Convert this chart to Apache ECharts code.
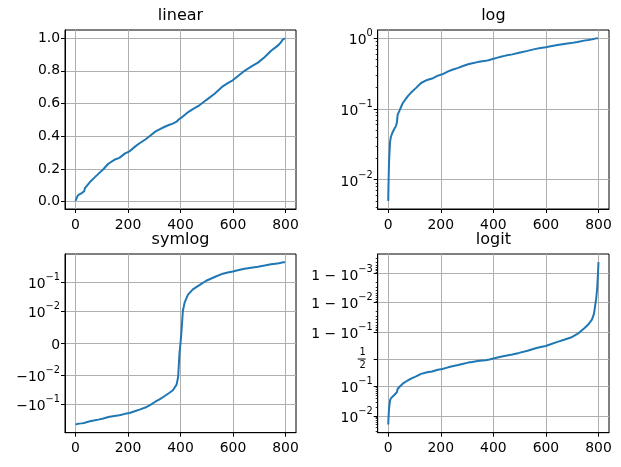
<!DOCTYPE html>
<html>
<head>
<meta charset="utf-8">
<script src="https://cdn.jsdelivr.net/npm/echarts@6/dist/echarts.min.js"></script>
<style>
html, body { margin: 0; padding: 0; background: #fff; }
#main { width: 621px; height: 467px; }
</style>
</head>
<body>
<div id="main"></div>
<script>
// sorted samples (index -> value)
const xIdx = [0, 1, 2, 3, 5, 7, 10, 16, 22, 29, 33, 36, 42, 55, 74, 87, 106, 125, 148, 167,
  189, 206, 228, 244, 266, 282, 304, 320, 340, 358, 371, 385, 391, 396, 400, 404, 409, 416, 428, 447,
  472, 498, 530, 561, 580, 599, 618, 644, 669, 695, 720, 745, 762, 775, 783, 788, 791, 795, 798, 800]
const yVal = [0.005, 0.008, 0.012, 0.017, 0.025, 0.034, 0.040, 0.046, 0.051, 0.057, 0.064, 0.083, 0.093, 0.12, 0.15, 0.17, 0.198, 0.232, 0.256, 0.268,
  0.295, 0.308, 0.338, 0.357, 0.38, 0.40, 0.428, 0.442, 0.458, 0.47, 0.477, 0.489, 0.4985, 0.5067, 0.51, 0.514, 0.52, 0.53, 0.546, 0.566,
  0.589, 0.621, 0.66, 0.705, 0.725, 0.742, 0.767, 0.80, 0.825, 0.85, 0.883, 0.922, 0.943, 0.96, 0.975, 0.988, 0.992, 0.9967, 0.999, 0.9996]
const yMean = 0.51

const titles = ['linear', 'log', 'symlog', 'logit']
const xTicks = [0, 200, 400, 600, 800]
const linTicks = [0, 0.2, 0.4, 0.6, 0.8, 1.0]
const logTicks = [0.01, 0.1, 1]
const logLabels = [['10', '−2'], ['10', '−1'], ['10', '0']]
const symTicks = [-0.1, -0.01, 0, 0.01, 0.1]
const symLabels = [['−10', '−1'], ['−10', '−2'], ['0', ''], ['10', '−2'], ['10', '−1']]
const logitTicks = [0.01, 0.1, 0.5, 0.9, 0.99, 0.999]
const logitLabels = [['10', '−2'], ['10', '−1'], ['1/2', ''], ['1 − 10', '−1'], ['1 − 10', '−2'], ['1 − 10', '−3']]

const FONT = 'DejaVu Sans'
const BLUE = '#1f77b4'

// scale transforms
const symlog = a => {
  const lt = 0.01, adj = 1 / (1 - 1 / 10)
  const m = Math.abs(a)
  if (m <= lt) return a / lt * adj
  return Math.sign(a) * (adj + Math.log10(m / lt))
}
const logit = p => Math.log10(p / (1 - p))
const padded = (lo, hi) => [lo - 0.05 * (hi - lo), hi + 0.05 * (hi - lo)]

// minor ticks
const logMinor = []
const logitMinor = []
;[0.001, 0.01, 0.1].forEach(d => {
  for (let k = 2; k <= 9; k++) logMinor.push(k * d)
})
;[0.001, 0.01].forEach(d => {
  for (let k = 2; k <= 9; k++) logitMinor.push(k * d)
})
;[0.01, 0.001, 0.0001].forEach(d => {
  for (let k = 2; k <= 9; k++) logitMinor.push(1 - k * d)
})

const linData = xIdx.map((x, i) => [x, yVal[i]])
const symData = xIdx.map((x, i) => [x, symlog(yVal[i] - yMean)])
const logitData = xIdx.map((x, i) => [x, logit(yVal[i])])

const yLo = Math.min(...yVal), yHi = Math.max(...yVal)
const linExt = padded(yLo, yHi)
const logExtL = padded(Math.log10(yLo), Math.log10(yHi))
const logExt = [Math.pow(10, logExtL[0]), Math.pow(10, logExtL[1])]
const symExt = padded(symlog(yLo - yMean), symlog(yHi - yMean))
const logitExt = padded(logit(yLo), logit(yHi))

const panels = [
  { left: 65, top: 30, width: 231, height: 179 },
  { left: 377.7, top: 30, width: 231.3, height: 179 },
  { left: 65, top: 254, width: 231, height: 178.7 },
  { left: 377.7, top: 254, width: 231.3, height: 178.7 }
]

const labelStyle = { color: '#000', fontSize: 13.9, fontFamily: FONT }
const rich = {
  b: { color: '#000', fontSize: 13.9, fontFamily: FONT, lineHeight: 19, verticalAlign: 'bottom' },
  s: { color: '#000', fontSize: 9.8, fontFamily: FONT, lineHeight: 11, verticalAlign: 'top' },
  n: { color: '#000', fontSize: 9.8, fontFamily: FONT, lineHeight: 10 },
  bar: { backgroundColor: '#000', width: 8, height: 1, lineHeight: 3, fontSize: 1 },
  sp: { width: 7, fontSize: 1, lineHeight: 1 }
}
const gridLine = { show: true, lineStyle: { color: '#b0b0b0', width: 1 } }
const spine = { show: true, onZero: false, lineStyle: { color: '#000', width: 1 } }
const tick = vals => ({ show: true, customValues: vals, length: 4, lineStyle: { color: '#000', width: 1 } })
const pick = (ticks, labels) => v => {
  const i = ticks.findIndex(t => Math.abs(t - v) < 1e-6 * Math.max(1, Math.abs(t)))
  if (i < 0) return ''
  const [base, exp] = labels[i]
  if (base === '1/2') return '{n|1}{sp| }\n{bar| }{sp| }\n{n|2}{sp| }'
  return exp ? `{b|${base}}{s|${exp}}` : `{b|${base}}`
}

const xAxis = panels.map((p, i) => ({
  type: 'value', gridIndex: i, min: -40, max: 840, position: 'bottom',
  axisLine: spine,
  axisTick: tick(xTicks),
  axisLabel: Object.assign({ customValues: xTicks, margin: 9 }, labelStyle),
  splitLine: gridLine
}))

const yCommon = { position: 'left', axisLine: spine, splitLine: gridLine }
const symT = symTicks.map(symlog)
const logitT = logitTicks.map(logit)
const minorAxis = { position: 'left', axisLabel: { show: false }, splitLine: { show: false },
  axisLine: { show: false, onZero: false } }
const yAxis = [
  Object.assign({ type: 'value', gridIndex: 0, min: linExt[0], max: linExt[1],
    axisTick: tick(linTicks),
    axisLabel: Object.assign({ customValues: linTicks, margin: 5, formatter: v => v.toFixed(1) }, labelStyle) }, yCommon),
  Object.assign({ type: 'log', logBase: 10, gridIndex: 1, min: logExt[0], max: logExt[1],
    axisTick: tick(logTicks),
    axisLabel: Object.assign({ customValues: logTicks, margin: 5, formatter: pick(logTicks, logLabels), rich: rich }, labelStyle) }, yCommon),
  Object.assign({ type: 'value', gridIndex: 2, min: symExt[0], max: symExt[1],
    axisTick: tick(symT),
    axisLabel: Object.assign({ customValues: symT, margin: 5, formatter: pick(symT, symLabels), rich: rich }, labelStyle) }, yCommon),
  Object.assign({ type: 'value', gridIndex: 3, min: logitExt[0], max: logitExt[1],
    axisTick: tick(logitT),
    axisLabel: Object.assign({ customValues: logitT, margin: 5, formatter: pick(logitT, logitLabels), rich: rich }, labelStyle) }, yCommon),
  // minor ticks
  Object.assign({ type: 'log', logBase: 10, gridIndex: 1, min: logExt[0], max: logExt[1],
    axisTick: { show: true, customValues: logMinor.filter(v => v > logExt[0] && v < logExt[1]), length: 2, lineStyle: { color: '#000', width: 0.8 } } }, minorAxis),
  Object.assign({ type: 'value', gridIndex: 3, min: logitExt[0], max: logitExt[1],
    axisTick: { show: true, customValues: logitMinor.map(logit).filter(v => v > logitExt[0] && v < logitExt[1]), length: 2, lineStyle: { color: '#000', width: 0.8 } } }, minorAxis)
]

const seriesData = [linData, linData, symData, logitData]

const option = {
  animation: false,
  backgroundColor: '#fff',
  title: panels.map((p, i) => ({
    text: titles[i],
    left: p.left + p.width / 2,
    top: p.top - 22,
    textAlign: 'center',
    padding: 0,
    textStyle: { color: '#000', fontSize: 16, fontWeight: 'normal', fontFamily: FONT }
  })),
  grid: panels.map(p => Object.assign({ show: true, borderColor: '#000', borderWidth: 1, containLabel: false }, p)),
  xAxis: xAxis,
  yAxis: yAxis,
  series: seriesData.map((d, i) => ({
    type: 'line',
    xAxisIndex: i,
    yAxisIndex: i,
    data: d,
    showSymbol: false,
    clip: false,
    lineStyle: { color: BLUE, width: 2 },
    itemStyle: { color: BLUE }
  }))
}

const chart = echarts.init(document.getElementById('main'))
chart.setOption(option)
</script>
</body>
</html>
